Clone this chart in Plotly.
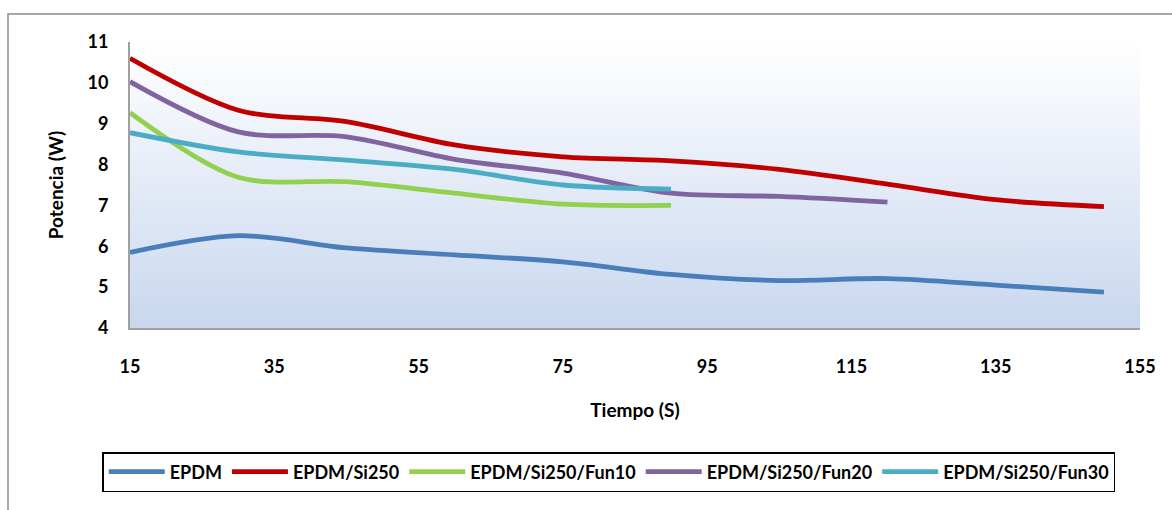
import plotly.graph_objects as go

tiempo = [15, 30, 45, 60, 75, 90, 105, 120, 135, 150]
epdm = [5.85, 6.26, 5.96, 5.79, 5.62, 5.31, 5.16, 5.21, 5.05, 4.88]
epdm_si250 = [10.6, 9.33, 9.05, 8.48, 8.19, 8.09, 7.88, 7.52, 7.14, 6.97]
fun10 = [9.27, 7.69, 7.58, 7.3, 7.03, 7.0]
fun20 = [10.03, 8.8, 8.68, 8.13, 7.79, 7.3, 7.22, 7.08]
fun30 = [8.78, 8.31, 8.11, 7.88, 7.5, 7.4]

names = ["EPDM", "EPDM/Si250", "EPDM/Si250/Fun10", "EPDM/Si250/Fun20", "EPDM/Si250/Fun30"]
series = [epdm, epdm_si250, fun10, fun20, fun30]
colors = ["#4A7EBB", "#C00000", "#92D050", "#8064A2", "#4BACC6"]

x_range = [15, 155]
y_range = [4, 11]
x_ticks = [15, 35, 55, 75, 95, 115, 135, 155]
y_ticks = [4, 5, 6, 7, 8, 9, 10, 11]

FONT = "Lato"

fig = go.Figure()

# gradient plot-area background
fig.add_trace(go.Scatter(
    x=[x_range[0], x_range[1], x_range[1], x_range[0], x_range[0]],
    y=[y_range[0], y_range[0], y_range[1], y_range[1], y_range[0]],
    mode="lines", line=dict(width=0), fill="toself",
    fillgradient=dict(type="vertical", colorscale=[[0, "#C8D7EF"], [1, "#FFFFFF"]]),
    hoverinfo="skip", showlegend=False,
))

for name, ys, col in zip(names, series, colors):
    fig.add_trace(go.Scatter(
        x=tiempo[:len(ys)], y=ys, name=name, mode="lines",
        line=dict(color=col, width=4.8, shape="spline", smoothing=0.9),
    ))

W, H = 1172, 510
L, R, T, B = 130, 32, 42, 182
pw, ph = W - L - R, H - T - B

def px_x(p):
    return (p - L) / pw

def px_y(p):
    return (H - B - p) / ph

fig.update_layout(
    width=W, height=H,
    margin=dict(l=L, r=R, t=T, b=B, autoexpand=False),
    paper_bgcolor="white", plot_bgcolor="rgba(0,0,0,0)",
    font=dict(family=FONT, size=18, color="black"),
    xaxis=dict(
        range=x_range, tickvals=x_ticks, showgrid=False, zeroline=False,
        showline=True, linecolor="#A0A0A0", linewidth=2,
        tickfont=dict(family=FONT, size=18, color="black", weight="bold"),
        ticklabelstandoff=21,
        title=dict(text="<b>Tiempo (S)</b>", standoff=28,
                   font=dict(family=FONT, size=19, color="black")),
    ),
    yaxis=dict(
        range=y_range, tickvals=y_ticks, showgrid=False, zeroline=False,
        showline=True, linecolor="#A0A0A0", linewidth=2,
        tickfont=dict(family=FONT, size=18, color="black", weight="bold"),
        ticklabelstandoff=16,
        title=dict(text="<b>Potencia (W)</b>", standoff=19,
                   font=dict(family=FONT, size=19, color="black")),
    ),
    legend=dict(
        orientation="h", x=0.474, xanchor="center", y=px_y(452), yanchor="top",
        bordercolor="black", borderwidth=1.5, bgcolor="white",
        font=dict(family=FONT, size=18, color="black", weight="bold"),
        itemwidth=56,
    ),
    shapes=[dict(
        type="rect", xref="paper", yref="paper",
        x0=px_x(8), x1=px_x(1190), y0=px_y(530), y1=px_y(14),
        line=dict(color="#8C8C8C", width=1.5), fillcolor="rgba(0,0,0,0)", layer="below",
    )],
)

fig.write_html("out.html")
